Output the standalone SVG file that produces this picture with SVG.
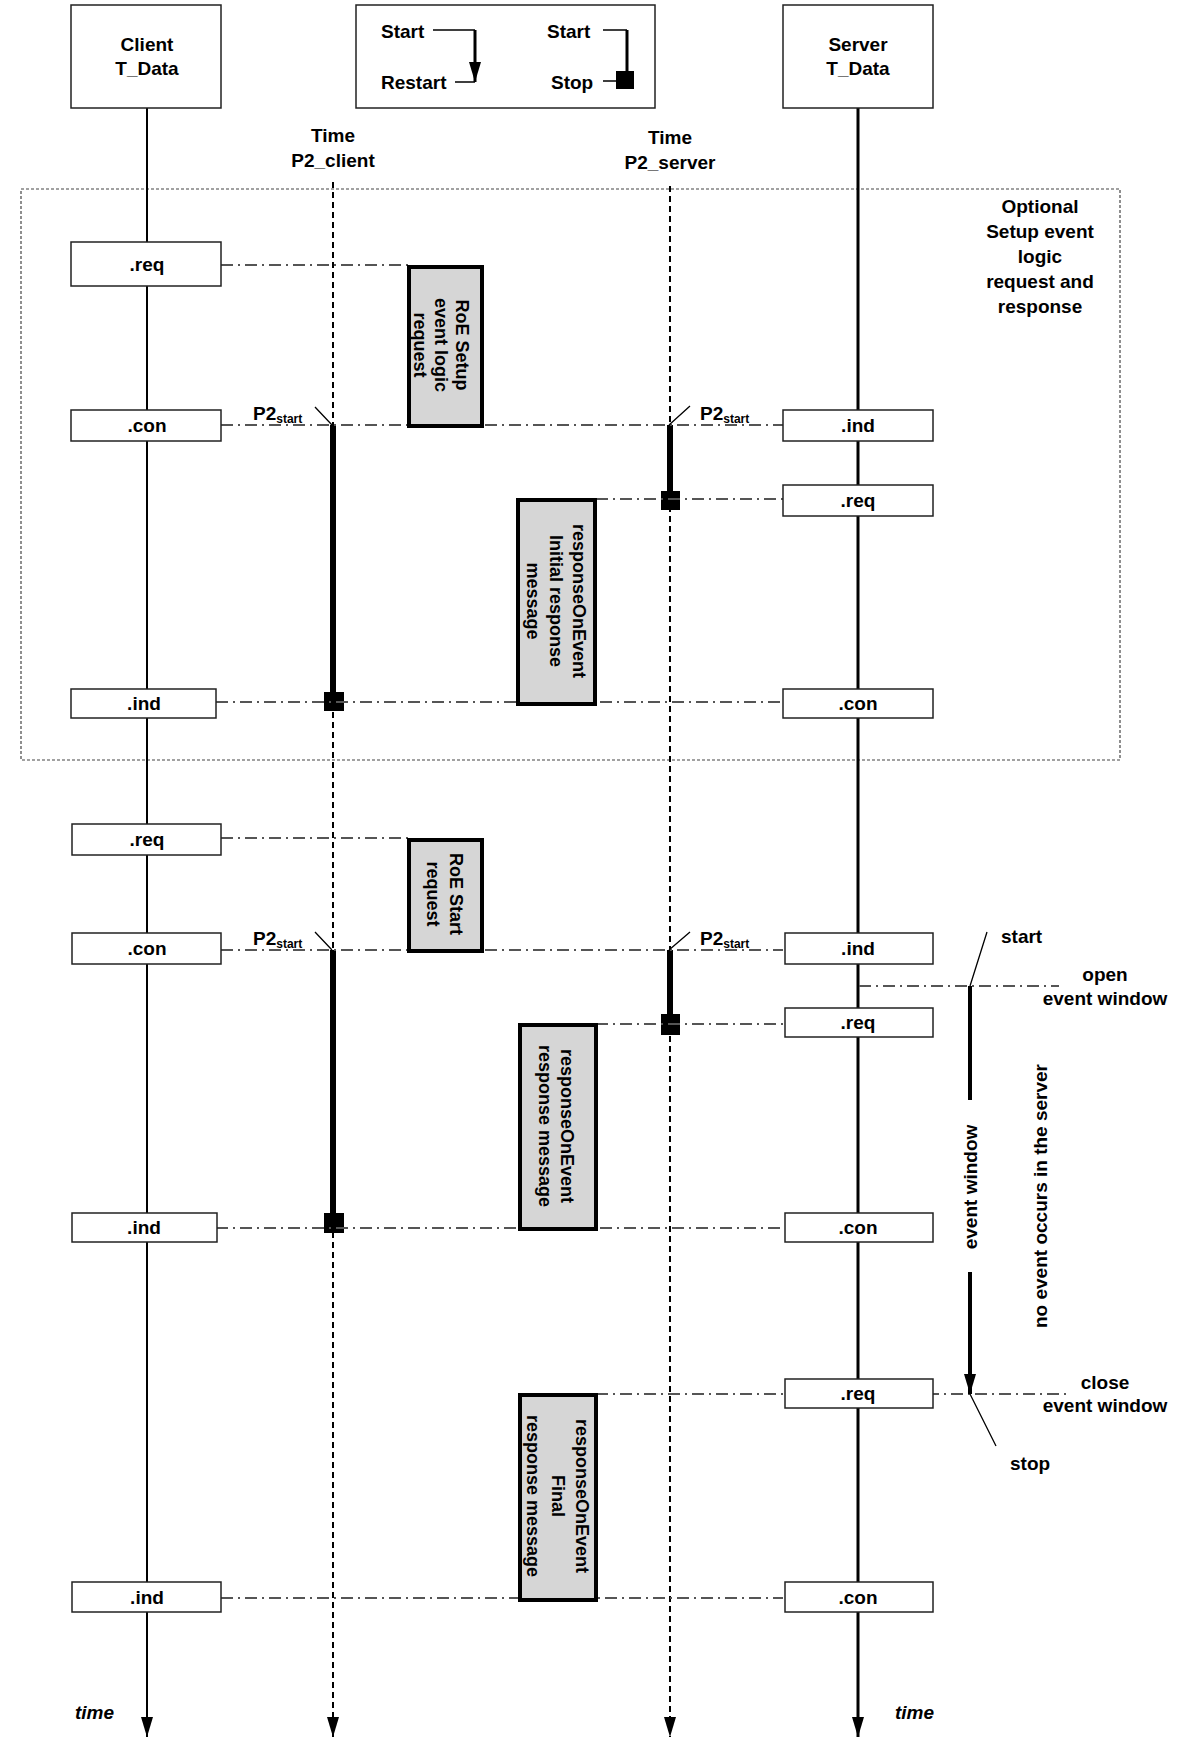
<svg xmlns="http://www.w3.org/2000/svg" width="1181" height="1744" viewBox="0 0 1181 1744">
<defs>
<marker id="ah" markerWidth="20" markerHeight="12" refX="20" refY="6" orient="auto" markerUnits="userSpaceOnUse" viewBox="0 0 20 12"><path d="M0,0 L20,6 L0,12 Z" fill="#000"/></marker>
<style>
.t{font-family:"Liberation Sans",Arial,sans-serif;font-weight:bold;font-size:19px;fill:#000}
.r{font-size:18px}
.m{text-anchor:middle}
.bx{fill:#fff;stroke:#222;stroke-width:1.5}
.msg{fill:#d6d6d6;stroke:#000;stroke-width:4}
.dd{stroke:#555;stroke-width:2;stroke-dasharray:12 5 2 5;fill:none}
.dot{stroke:#000;stroke-width:2;stroke-dasharray:6 4;fill:none}
.thick{stroke:#000;stroke-width:6}
.thin{stroke:#000;stroke-width:1.3;fill:none}
</style>
</defs>
<rect x="21" y="189" width="1099" height="571" fill="none" stroke="#444" stroke-width="1.2" stroke-dasharray="3 2"/>
<g id="connectors">
<line x1="147" y1="108" x2="147" y2="1737" stroke="#000" stroke-width="2" marker-end="url(#ah)"/>
<line x1="858" y1="108" x2="858" y2="1737" stroke="#000" stroke-width="3" marker-end="url(#ah)"/>
<line x1="333" y1="182" x2="333" y2="1737" class="dot" marker-end="url(#ah)"/>
<line x1="670" y1="186" x2="670" y2="1737" class="dot" marker-end="url(#ah)"/>
<line x1="333" y1="425" x2="333" y2="700" class="thick"/>
<line x1="670" y1="425" x2="670" y2="500" class="thick"/>
<line x1="333" y1="950" x2="333" y2="1222" class="thick"/>
<line x1="670" y1="950" x2="670" y2="1024" class="thick"/>
<rect x="324" y="692" width="20" height="19"/>
<rect x="661" y="491" width="19" height="19"/>
<rect x="324" y="1213" width="20" height="20"/>
<rect x="661" y="1014" width="19" height="21"/>
<path class="dd" d="M221,265 H409 M221,425 H783 M596,499 H783 M216,702 H783 M221,838 H409 M221,950 H783 M596,1024 H783 M216,1228 H783 M596,1394 H783 M927,1394 H1067 M221,1598 H783 M859,986 H1059"/>
<path class="thin" d="M315,407 L332,425 M690,406 L669,425 M315,932 L332,950 M690,932 L669,950 M987,932 L970,986 M970,1394 L996,1446"/>
<line x1="970" y1="986" x2="970" y2="1100" stroke="#000" stroke-width="4"/>
<line x1="970" y1="1272" x2="970" y2="1394" stroke="#000" stroke-width="4" marker-end="url(#ah)"/>
</g>
<g id="client"><rect class="bx" x="71" y="5" width="150" height="103"/><text class="t m" x="147" y="51">Client</text><text class="t m" x="147" y="75">T_Data</text></g>
<g id="server"><rect class="bx" x="783" y="5" width="150" height="103"/><text class="t m" x="858" y="51">Server</text><text class="t m" x="858" y="75">T_Data</text></g>
<g id="legend"><rect class="bx" x="356" y="5" width="299" height="103"/>
<text class="t" x="381" y="38">Start</text><text class="t" x="381" y="89">Restart</text>
<path class="thin" d="M433,30 H475 M455,82 H475"/><line x1="475" y1="30" x2="475" y2="82" stroke="#000" stroke-width="3" marker-end="url(#ah)"/>
<text class="t" x="547" y="38">Start</text><text class="t" x="551" y="89">Stop</text>
<path class="thin" d="M603,30 H627 M603,81 H616"/><line x1="627" y1="30" x2="627" y2="75" stroke="#000" stroke-width="3"/><rect x="616" y="71" width="18" height="18"/>
</g>
<g id="timelabels"><text class="t m" x="333" y="142">Time</text><text class="t m" x="333" y="167">P2_client</text><text class="t m" x="670" y="144">Time</text><text class="t m" x="670" y="169">P2_server</text></g>
<g id="optional"><text class="t m" x="1040" y="213">Optional</text><text class="t m" x="1040" y="238">Setup event</text><text class="t m" x="1040" y="263">logic</text><text class="t m" x="1040" y="288">request and</text><text class="t m" x="1040" y="313">response</text></g>
<g id="p2start"><text class="t" x="253" y="420">P2<tspan font-size="12" dy="3">start</tspan></text><text class="t" x="700" y="420">P2<tspan font-size="12" dy="3">start</tspan></text><text class="t" x="253" y="945">P2<tspan font-size="12" dy="3">start</tspan></text><text class="t" x="700" y="945">P2<tspan font-size="12" dy="3">start</tspan></text></g>
<g id="c1"><rect class="bx" x="71" y="242" width="150" height="44"/><text class="t m" x="147" y="271">.req</text></g>
<g id="c2"><rect class="bx" x="71" y="410" width="150" height="31"/><text class="t m" x="147" y="432">.con</text></g>
<g id="c3"><rect class="bx" x="71" y="689" width="145" height="29"/><text class="t m" x="144" y="710">.ind</text></g>
<g id="c4"><rect class="bx" x="72" y="824" width="149" height="31"/><text class="t m" x="147" y="846">.req</text></g>
<g id="c5"><rect class="bx" x="72" y="933" width="149" height="31"/><text class="t m" x="147" y="955">.con</text></g>
<g id="c6"><rect class="bx" x="72" y="1213" width="145" height="29"/><text class="t m" x="144" y="1234">.ind</text></g>
<g id="c7"><rect class="bx" x="72" y="1582" width="149" height="30"/><text class="t m" x="147" y="1604">.ind</text></g>
<g id="s1"><rect class="bx" x="783" y="410" width="150" height="31"/><text class="t m" x="858" y="432">.ind</text></g>
<g id="s2"><rect class="bx" x="783" y="485" width="150" height="31"/><text class="t m" x="858" y="507">.req</text></g>
<g id="s3"><rect class="bx" x="783" y="689" width="150" height="29"/><text class="t m" x="858" y="710">.con</text></g>
<g id="s4"><rect class="bx" x="785" y="933" width="148" height="31"/><text class="t m" x="858" y="955">.ind</text></g>
<g id="s5"><rect class="bx" x="785" y="1008" width="148" height="29"/><text class="t m" x="858" y="1029">.req</text></g>
<g id="s6"><rect class="bx" x="785" y="1213" width="148" height="29"/><text class="t m" x="858" y="1234">.con</text></g>
<g id="s7"><rect class="bx" x="785" y="1379" width="148" height="29"/><text class="t m" x="858" y="1400">.req</text></g>
<g id="s8"><rect class="bx" x="785" y="1582" width="148" height="30"/><text class="t m" x="858" y="1604">.con</text></g>
<g id="m1"><rect class="msg" x="409" y="267" width="73" height="159"/><g transform="translate(446,345) rotate(90)"><text class="t r m" y="-10">RoE Setup</text><text class="t r m" y="11">event logic</text><text class="t r m" y="32">request</text></g></g>
<g id="m2"><rect class="msg" x="518" y="500" width="77" height="204"/><g transform="translate(556,601) rotate(90)"><text class="t r m" y="-17">responseOnEvent</text><text class="t r m" y="6">Initial response</text><text class="t r m" y="29">message</text></g></g>
<g id="m3"><rect class="msg" x="409" y="840" width="73" height="111"/><g transform="translate(446,894) rotate(90)"><text class="t r m" y="-4">RoE Start</text><text class="t r m" y="19">request</text></g></g>
<g id="m4"><rect class="msg" x="520" y="1025" width="76" height="204"/><g transform="translate(558,1126) rotate(90)"><text class="t r m" y="-3">responseOnEvent</text><text class="t r m" y="19">response message</text></g></g>
<g id="m5"><rect class="msg" x="520" y="1395" width="76" height="205"/><g transform="translate(558,1496) rotate(90)"><text class="t r m" y="-18">responseOnEvent</text><text class="t r m" y="6">Final</text><text class="t r m" y="31">response message</text></g></g>
<g id="window">
<text class="t" x="1001" y="943">start</text>
<text class="t m" x="1105" y="981">open</text><text class="t m" x="1105" y="1005">event window</text>
<text class="t m" transform="translate(977,1187) rotate(-90)">event window</text>
<text class="t m" transform="translate(1047,1196) rotate(-90)">no event occurs in the server</text>
<text class="t m" x="1105" y="1389">close</text><text class="t m" x="1105" y="1412">event window</text>
<text class="t" x="1010" y="1470">stop</text>
</g>
<g id="timeaxis"><text class="t" x="75" y="1719" font-style="italic">time</text><text class="t" x="895" y="1719" font-style="italic">time</text></g>
</svg>
